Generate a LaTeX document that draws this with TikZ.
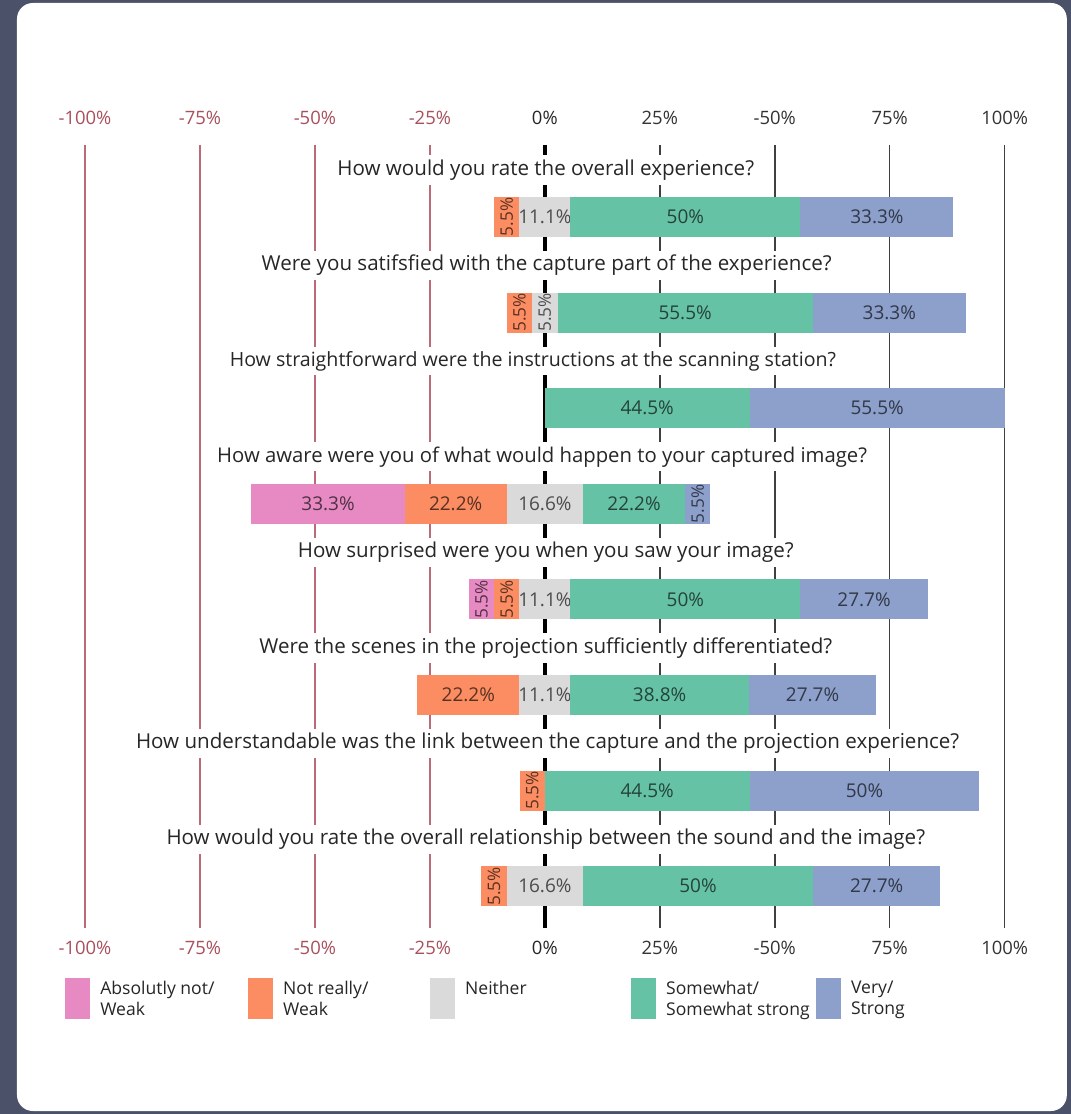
\documentclass[tikz,border=0pt]{standalone}
\usepackage{fontspec}
\setmainfont{Open Sans}
\usepackage{tikz}

\definecolor{slate}{HTML}{4A5168}
\definecolor{pinkbar}{HTML}{E78AC3}
\definecolor{orangebar}{HTML}{FC8D62}
\definecolor{graybar}{HTML}{DADADA}
\definecolor{greenbar}{HTML}{66C2A5}
\definecolor{bluebar}{HTML}{8DA0CB}
\definecolor{neggrid}{HTML}{BC6A78}
\definecolor{negtext}{HTML}{A8505C}

\tikzset{
  question/.style={fill=white, inner xsep=2pt, inner ysep=2.5pt, text=black!85,
    font=\fontsize{11.7}{13}\selectfont},
  barlabel/.style={inner sep=0pt, font=\fontsize{10.8}{12}\selectfont},
  rotlabel/.style={rotate=90, font=\fontsize{9.8}{11}\selectfont},
  ticklabel/.style={inner sep=1pt, font=\fontsize{10.5}{12}\selectfont},
  legendtext/.style={anchor=north west, align=left, inner sep=0pt, text=black!85,
    font=\fontsize{10}{12}\selectfont},
}

% one piece of a bar: [label options]{name}{from}{to}{row}{colour}{text}
\newcommand{\barpiece}[7][]{%
  \fill[#6] (#3,{#5-20}) rectangle (#4,{#5+20});
  \node[barlabel, text=#6!35!black, #1] (#2) at ({(#3+#4)/2},#5) {#7};
}

\begin{document}
\begin{tikzpicture}[x=0.092cm, y=-0.02cm]
% frame
\useasboundingbox (-118.478,0) rectangle (114.348,1114);
\fill[slate] (-118.478,0) rectangle (114.348,1114);
\fill[white, rounded corners=9pt] (-114.78,3) rectangle (113.5,1111);

% grid lines and tick labels
\foreach \v/\t [count=\i] in {-100/-100\%, -75/-75\%, -50/-50\%, -25/-25\%} {
  \draw[neggrid, line width=0.8pt] (\v,145) -- (\v,928);
  \node[ticklabel, text=negtext] (tickn\i) at (\v,118) {\t};
  \node[ticklabel, text=negtext] (tickm\i) at (\v,948) {\t};
}
\foreach \v/\t [count=\i] in {25/25\%, 50/-50\%, 75/75\%, 100/100\%} {
  \draw[black!75, line width=0.8pt] (\v,145) -- (\v,928);
  \node[ticklabel, text=black!80] (tickp\i) at (\v,118) {\t};
  \node[ticklabel, text=black!80] (tickq\i) at (\v,948) {\t};
}
\draw[black, line width=2.4pt] (0,145) -- (0,928);
\node[ticklabel, text=black!85] (tickzero) at (0,118) {0\%};
\node[ticklabel, text=black!85] (tickzerob) at (0,948) {0\%};

% questions
\node[question] (q1) at (0.2,170) {How would you rate the overall experience?};
\node[question] (q2) at (0.4,265.6) {Were you satifsfied with the capture part of the experience?};
\node[question, font=\fontsize{11.15}{13}\selectfont] (q3) at (-2.6,361.2) {How straightforward were the instructions at the scanning station?};
\node[question, font=\fontsize{11.55}{13}\selectfont] (q4) at (-0.6,456.8) {How aware were you of what would happen to your captured image?};
\node[question] (q5) at (0.2,552.4) {How surprised were you when you saw your image?};
\node[question] (q6) at (0.2,648) {Were the scenes in the projection sufficiently differentiated?};
\node[question] (q7) at (0.6,743.6) {How understandable was the link between the capture and the projection experience?};
\node[question] (q8) at (0.2,839.2) {How would you rate the overall relationship between the sound and the image?};

% bars
\barpiece[rotlabel]{b1o}{-11.05}{-5.55}{217}{orangebar}{5.5\%}
\barpiece{b1n}{-5.55}{5.55}{217}{graybar}{11.1\%}
\barpiece{b1g}{5.55}{55.55}{217}{greenbar}{50\%}
\barpiece{b1b}{55.55}{88.85}{217}{bluebar}{33.3\%}

\barpiece[rotlabel]{b2o}{-8.25}{-2.75}{312.6}{orangebar}{5.5\%}
\barpiece[rotlabel]{b2n}{-2.75}{2.75}{312.6}{graybar}{5.5\%}
\barpiece{b2g}{2.75}{58.25}{312.6}{greenbar}{55.5\%}
\barpiece{b2b}{58.25}{91.55}{312.6}{bluebar}{33.3\%}

\barpiece{b3g}{0}{44.5}{408.2}{greenbar}{44.5\%}
\barpiece{b3b}{44.5}{100}{408.2}{bluebar}{55.5\%}

\barpiece{b4p}{-63.8}{-30.5}{503.8}{pinkbar}{33.3\%}
\barpiece{b4o}{-30.5}{-8.3}{503.8}{orangebar}{22.2\%}
\barpiece{b4n}{-8.3}{8.3}{503.8}{graybar}{16.6\%}
\barpiece{b4g}{8.3}{30.5}{503.8}{greenbar}{22.2\%}
\barpiece[rotlabel]{b4b}{30.5}{36}{503.8}{bluebar}{5.5\%}

\barpiece[rotlabel]{b5p}{-16.55}{-11.05}{599.4}{pinkbar}{5.5\%}
\barpiece[rotlabel]{b5o}{-11.05}{-5.55}{599.4}{orangebar}{5.5\%}
\barpiece{b5n}{-5.55}{5.55}{599.4}{graybar}{11.1\%}
\barpiece{b5g}{5.55}{55.55}{599.4}{greenbar}{50\%}
\barpiece{b5b}{55.55}{83.25}{599.4}{bluebar}{27.7\%}

\barpiece{b6o}{-27.75}{-5.55}{695}{orangebar}{22.2\%}
\barpiece{b6n}{-5.55}{5.55}{695}{graybar}{11.1\%}
\barpiece{b6g}{5.55}{44.35}{695}{greenbar}{38.8\%}
\barpiece{b6b}{44.35}{72.05}{695}{bluebar}{27.7\%}

\barpiece[rotlabel]{b7o}{-5.5}{0}{790.6}{orangebar}{5.5\%}
\barpiece{b7g}{0}{44.5}{790.6}{greenbar}{44.5\%}
\barpiece{b7b}{44.5}{94.5}{790.6}{bluebar}{50\%}

\barpiece[rotlabel]{b8o}{-13.8}{-8.3}{886.2}{orangebar}{5.5\%}
\barpiece{b8n}{-8.3}{8.3}{886.2}{graybar}{16.6\%}
\barpiece{b8g}{8.3}{58.3}{886.2}{greenbar}{50\%}
\barpiece{b8b}{58.3}{86}{886.2}{bluebar}{27.7\%}

% legend
\foreach \a/\c/\t [count=\i] in {-104.35/pinkbar/{Absolutly not/\\Weak},
    -64.57/orangebar/{Not really/\\Weak}, -25/graybar/{Neither},
    18.7/greenbar/{Somewhat/\\Somewhat strong}, 58.91/bluebar/{Very/\\Strong}} {
  \fill[\c] (\a,978) rectangle ({\a+5.5},1019);
  \node[legendtext] (key\i) at ({\a+7.6},981) {\t};
}
\end{tikzpicture}
\end{document}
